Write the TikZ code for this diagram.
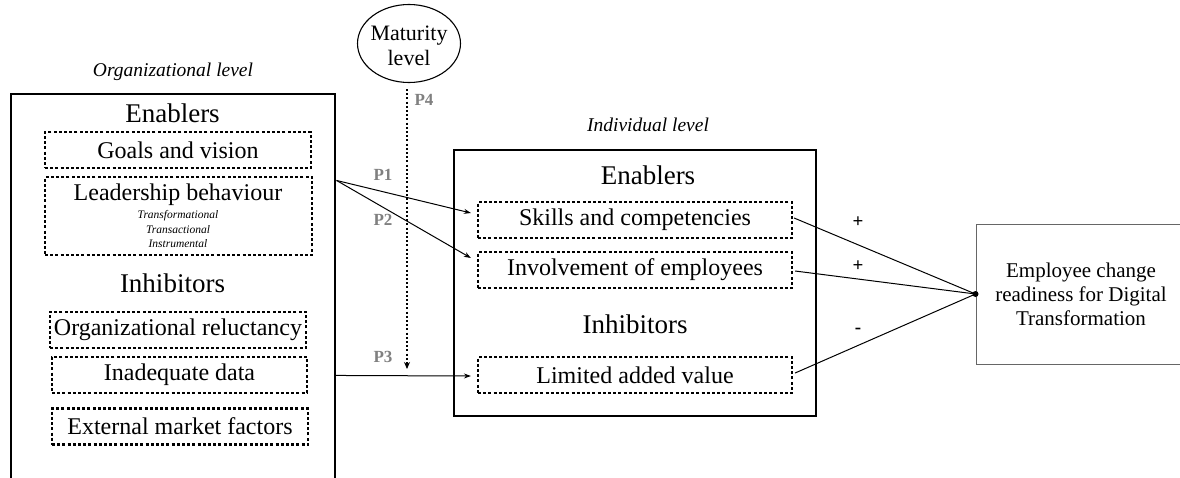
\documentclass[tikz,border=0pt]{standalone}
\usepackage{fontspec}
\setmainfont{Liberation Serif}
\newfontfamily\tms{Liberation Serif}
\usetikzlibrary{shapes.geometric,arrows.meta,calc}
\begin{document}
\begin{tikzpicture}[x=1pt,y=-1pt,
 every node/.style={font=\tms},
 solidbox/.style={draw, line width=1.1pt, inner sep=0pt},
 dotbox/.style={draw, line width=2.2pt, dash pattern=on 3pt off 2.2pt, minimum height=36pt, inner sep=0pt, font=\tms\fontsize{24}{28}\selectfont},
 heading/.style={font=\tms\fontsize{27}{30}\selectfont},
 levellabel/.style={font=\tms\itshape\fontsize{19.5}{22}\selectfont},
 smallit/.style={font=\tms\itshape\fontsize{11.5}{14}\selectfont},
 plabel/.style={text=black!50, font=\tms\bfseries\fontsize{17}{20}\selectfont},
 sign/.style={font=\tms\bfseries\fontsize{19}{20}\selectfont},
 arr/.style={line width=1pt, -{Stealth[length=7pt,width=5pt]}},
 conn/.style={line width=1pt},
 dotarrow/.style={line width=2.4pt, dash pattern=on 2pt off 2.2pt, -{Stealth[length=7pt,width=6pt]}},
]
\useasboundingbox (0,0) rectangle (1180,477);
\clip (0,0) rectangle (1180,477);

% Organizational level
\node[levellabel] (orglabel) at (173,72) {Organizational level};
\node[solidbox, minimum width=324pt, minimum height=400pt] (org) at (173,294) {};
\node[heading] (orgen) at (172.5,113) {Enablers};
\node[dotbox, minimum width=266pt] (goals) at (178,150) {Goals and vision};
\node[dotbox, minimum width=267pt, minimum height=78pt] (lead) at (178.5,216) {};
\node[font=\tms\fontsize{24}{28}\selectfont] (leadtxt) at (178,195) {Leadership behaviour};
\node[smallit] (t1) at (178,216) {Transformational};
\node[smallit] (t2) at (178,230) {Transactional};
\node[smallit] (t3) at (178,244) {Instrumental};
\node[heading] (orginh) at (172.5,283) {Inhibitors};
\node[dotbox, minimum width=256pt] (reluct) at (178,330) {Organizational reluctancy};
\node[dotbox, minimum width=255pt] (data) at (179.5,375) {Inadequate data};
\node[dotbox, minimum width=256pt] (market) at (180,426.5) {External market factors};

% Maturity
\node[draw, ellipse, line width=1.1pt, minimum width=103pt, minimum height=78pt, inner sep=0pt] (maturity) at (409,43.5) {};
\node[align=center, font=\tms\fontsize{22}{25}\selectfont] (mattxt) at (409,46) {Maturity\\level};
\coordinate (mtop) at ($(maturity.south)+(-2,6)$);
\coordinate (mend) at (407,369);
\draw[dotarrow] (mtop) -- (mend);
\node[plabel] (p4) at (424,100) {P4};

% Individual level
\node[levellabel] (indlabel) at (648,125) {Individual level};
\node[solidbox, minimum width=362pt, minimum height=266pt] (ind) at (635,283) {};
\node[heading] (inden) at (648,175) {Enablers};
\node[dotbox, minimum width=314pt] (skills) at (635,220) {Skills and competencies};
\node[dotbox, minimum width=314pt] (involve) at (635,270) {Involvement of employees};
\node[heading] (indinh) at (635,324) {Inhibitors};
\node[dotbox, minimum width=314pt] (limited) at (635,375) {Limited added value};

% Propositions
\coordinate (p12) at ($(org.north east)+(1,87)$);
\coordinate (p3s) at ($(org.north east)+(0,282)$);
\draw[arr] (p12) -- ($(skills.west)+(-6,-7)$);
\draw[arr] (p12) -- ($(involve.west)+(-6,-12)$);
\draw[arr] (p3s) -- ($(limited.west)+(-6,1)$);
\node[plabel] (p1) at (383,175) {P1};
\node[plabel] (p2) at (383,220) {P2};
\node[plabel] (p3) at (383,357) {P3};

% Outcome
\node[draw=black!60, line width=1pt, minimum width=204pt, minimum height=140pt, inner sep=0pt] (out) at (1078,294) {};
\node[align=center, font=\tms\fontsize{21}{24}\selectfont] (outtxt) at (1081,294) {Employee change\\readiness for Digital\\Transformation};
\fill (out.west) circle (3pt);
\draw[conn] ($(skills.east)+(1,-2)$) -- (out.west);
\draw[conn] ($(involve.east)+(2,1)$) -- (out.west);
\draw[conn] ($(limited.east)+(2,-2)$) -- (out.west);
\node[sign] (s1) at (858,222) {+};
\node[sign] (s2) at (858,266) {+};
\node[sign] (s3) at (858,331) {-};
\end{tikzpicture}
\end{document}
